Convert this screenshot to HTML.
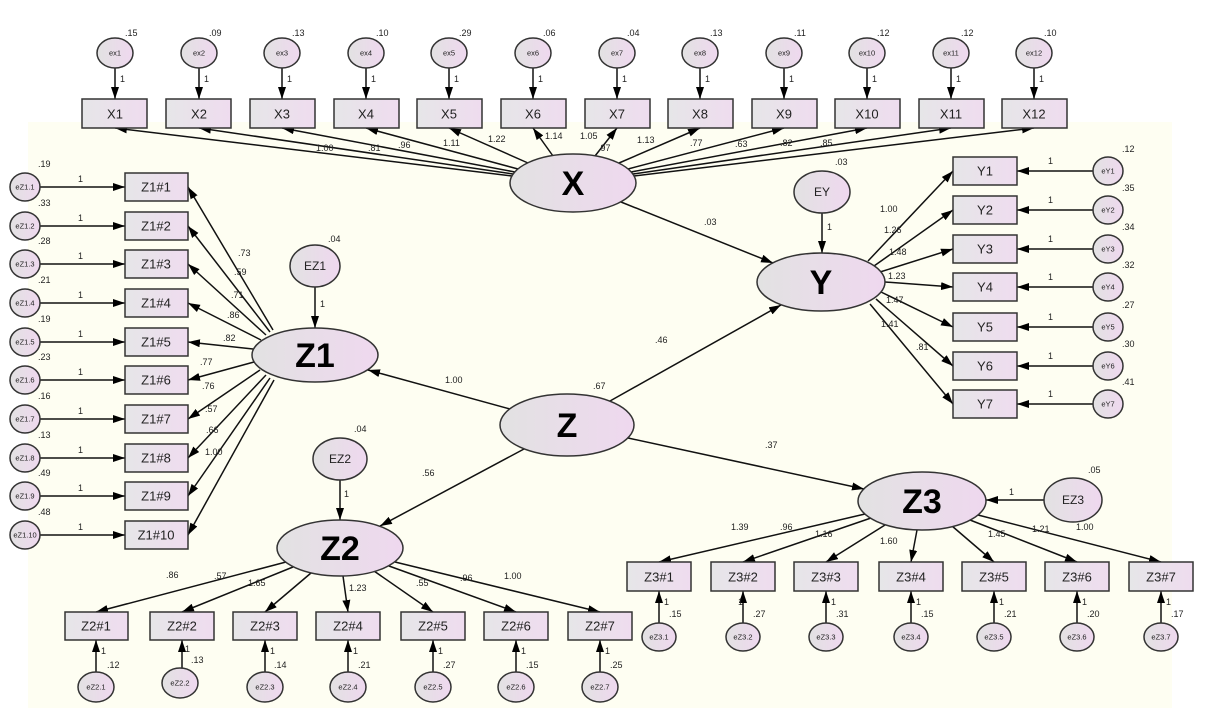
<!DOCTYPE html>
<html><head><meta charset="utf-8"><style>
html,body{margin:0;padding:0;background:#fff;}
svg{display:block;font-family:"Liberation Sans",Arial,sans-serif;}
.b{fill:url(#gb);stroke:#333;stroke-width:1.5}
.e{fill:url(#ge);stroke:#333;stroke-width:1.5}
.l{stroke:#111;stroke-width:1.5;fill:none;marker-end:url(#ar)}
.t{font-size:13px;fill:#222;text-anchor:middle;dominant-baseline:central}
.s{font-size:9px;fill:#222}
.m{font-size:7.5px;fill:#222;text-anchor:middle;dominant-baseline:central}
.big{font-size:34px;font-weight:bold;fill:#000;text-anchor:middle;dominant-baseline:central}
</style></head><body>
<svg width="1205" height="717" viewBox="0 0 1205 717">
<defs>
<linearGradient id="gb" x1="0" x2="1" y1="0" y2="0"><stop offset="0" stop-color="#e6e6e8"/><stop offset="1" stop-color="#efdcef"/></linearGradient>
<linearGradient id="ge" x1="0" x2="1" y1="0" y2="0"><stop offset="0" stop-color="#e2e2e2"/><stop offset="1" stop-color="#efd8ef"/></linearGradient>
<marker id="ar" viewBox="0 0 12 8" refX="12" refY="4" markerWidth="12" markerHeight="8" markerUnits="userSpaceOnUse" orient="auto"><path d="M0,0L12,4L0,8z" fill="#000"/></marker>
</defs>
<rect x="28" y="122" width="1144" height="586" fill="#fefef2"/>

<!-- X edges -->
<line class="l" x1="512" y1="176" x2="115" y2="128"/>
<line class="l" x1="513" y1="174" x2="199" y2="128"/>
<line class="l" x1="515" y1="172" x2="282" y2="128"/>
<line class="l" x1="518" y1="169" x2="366" y2="128"/>
<line class="l" x1="528" y1="163" x2="449" y2="128"/>
<line class="l" x1="553" y1="156" x2="533" y2="128"/>
<line class="l" x1="595" y1="156" x2="617" y2="128"/>
<line class="l" x1="619" y1="163" x2="700" y2="128"/>
<line class="l" x1="628" y1="169" x2="784" y2="128"/>
<line class="l" x1="631" y1="172" x2="867" y2="128"/>
<line class="l" x1="633" y1="174" x2="951" y2="128"/>
<line class="l" x1="634" y1="176" x2="1034" y2="128"/>
<line class="l" x1="621" y1="202" x2="773" y2="263"/>

<!-- ex error arrows -->
<g>
<line class="l" x1="115" y1="68" x2="115" y2="99"/><line class="l" x1="199" y1="68" x2="199" y2="99"/>
<line class="l" x1="282" y1="68" x2="282" y2="99"/><line class="l" x1="366" y1="68" x2="366" y2="99"/>
<line class="l" x1="449" y1="68" x2="449" y2="99"/><line class="l" x1="533" y1="68" x2="533" y2="99"/>
<line class="l" x1="617" y1="68" x2="617" y2="99"/><line class="l" x1="700" y1="68" x2="700" y2="99"/>
<line class="l" x1="784" y1="68" x2="784" y2="99"/><line class="l" x1="867" y1="68" x2="867" y2="99"/>
<line class="l" x1="951" y1="68" x2="951" y2="99"/><line class="l" x1="1034" y1="68" x2="1034" y2="99"/>
</g>
<g>
<ellipse class="e" cx="115" cy="53" rx="18" ry="15"/><text class="m" x="115" y="53">ex1</text>
<ellipse class="e" cx="199" cy="53" rx="18" ry="15"/><text class="m" x="199" y="53">ex2</text>
<ellipse class="e" cx="282" cy="53" rx="18" ry="15"/><text class="m" x="282" y="53">ex3</text>
<ellipse class="e" cx="366" cy="53" rx="18" ry="15"/><text class="m" x="366" y="53">ex4</text>
<ellipse class="e" cx="449" cy="53" rx="18" ry="15"/><text class="m" x="449" y="53">ex5</text>
<ellipse class="e" cx="533" cy="53" rx="18" ry="15"/><text class="m" x="533" y="53">ex6</text>
<ellipse class="e" cx="617" cy="53" rx="18" ry="15"/><text class="m" x="617" y="53">ex7</text>
<ellipse class="e" cx="700" cy="53" rx="18" ry="15"/><text class="m" x="700" y="53">ex8</text>
<ellipse class="e" cx="784" cy="53" rx="18" ry="15"/><text class="m" x="784" y="53">ex9</text>
<ellipse class="e" cx="867" cy="53" rx="18" ry="15"/><text class="m" x="867" y="53">ex10</text>
<ellipse class="e" cx="951" cy="53" rx="18" ry="15"/><text class="m" x="951" y="53">ex11</text>
<ellipse class="e" cx="1034" cy="53" rx="18" ry="15"/><text class="m" x="1034" y="53">ex12</text>
</g>
<g class="s">
<text x="125" y="36">.15</text><text x="209" y="36">.09</text><text x="292" y="36">.13</text><text x="376" y="36">.10</text>
<text x="459" y="36">.29</text><text x="543" y="36">.06</text><text x="627" y="36">.04</text><text x="710" y="36">.13</text>
<text x="794" y="36">.11</text><text x="877" y="36">.12</text><text x="961" y="36">.12</text><text x="1044" y="36">.10</text>
<text x="120" y="82">1</text><text x="204" y="82">1</text><text x="287" y="82">1</text><text x="371" y="82">1</text>
<text x="454" y="82">1</text><text x="538" y="82">1</text><text x="622" y="82">1</text><text x="705" y="82">1</text>
<text x="789" y="82">1</text><text x="872" y="82">1</text><text x="956" y="82">1</text><text x="1039" y="82">1</text>
</g>
<g>
<rect class="b" x="82" y="99" width="65" height="29"/><text class="t" x="115" y="114">X1</text>
<rect class="b" x="166" y="99" width="65" height="29"/><text class="t" x="199" y="114">X2</text>
<rect class="b" x="250" y="99" width="65" height="29"/><text class="t" x="282" y="114">X3</text>
<rect class="b" x="334" y="99" width="65" height="29"/><text class="t" x="366" y="114">X4</text>
<rect class="b" x="417" y="99" width="65" height="29"/><text class="t" x="449" y="114">X5</text>
<rect class="b" x="501" y="99" width="65" height="29"/><text class="t" x="533" y="114">X6</text>
<rect class="b" x="585" y="99" width="65" height="29"/><text class="t" x="617" y="114">X7</text>
<rect class="b" x="668" y="99" width="65" height="29"/><text class="t" x="700" y="114">X8</text>
<rect class="b" x="752" y="99" width="65" height="29"/><text class="t" x="784" y="114">X9</text>
<rect class="b" x="835" y="99" width="65" height="29"/><text class="t" x="867" y="114">X10</text>
<rect class="b" x="919" y="99" width="65" height="29"/><text class="t" x="951" y="114">X11</text>
<rect class="b" x="1002" y="99" width="65" height="29"/><text class="t" x="1034" y="114">X12</text>
</g>
<g class="s">
<text x="316" y="151">1.00</text><text x="368" y="151">.81</text><text x="398" y="148">.96</text><text x="443" y="146">1.11</text>
<text x="488" y="142">1.22</text><text x="545" y="139">1.14</text><text x="580" y="139">1.05</text><text x="598" y="151">.97</text>
<text x="637" y="143">1.13</text><text x="690" y="146">.77</text><text x="735" y="147">.63</text><text x="780" y="146">.82</text>
<text x="820" y="146">.85</text><text x="704" y="225">.03</text>
</g>

<!-- Z1 -->
<g>
<line class="l" x1="40" y1="187" x2="125" y2="187"/><line class="l" x1="40" y1="226" x2="125" y2="226"/>
<line class="l" x1="40" y1="264" x2="125" y2="264"/><line class="l" x1="40" y1="303" x2="125" y2="303"/>
<line class="l" x1="40" y1="342" x2="125" y2="342"/><line class="l" x1="40" y1="380" x2="125" y2="380"/>
<line class="l" x1="40" y1="419" x2="125" y2="419"/><line class="l" x1="40" y1="458" x2="125" y2="458"/>
<line class="l" x1="40" y1="496" x2="125" y2="496"/><line class="l" x1="40" y1="535" x2="125" y2="535"/>
<line class="l" x1="273" y1="330" x2="188" y2="187"/><line class="l" x1="270" y1="332" x2="188" y2="226"/>
<line class="l" x1="266" y1="335" x2="188" y2="264"/><line class="l" x1="261" y1="340" x2="188" y2="303"/>
<line class="l" x1="253" y1="349" x2="188" y2="342"/><line class="l" x1="254" y1="362" x2="188" y2="380"/>
<line class="l" x1="260" y1="370" x2="188" y2="419"/><line class="l" x1="266" y1="375" x2="188" y2="458"/>
<line class="l" x1="270" y1="378" x2="188" y2="496"/><line class="l" x1="274" y1="380" x2="188" y2="535"/>
</g>
<g>
<ellipse class="e" cx="25" cy="187" rx="15" ry="14"/><text class="m" x="25" y="187">eZ1.1</text>
<ellipse class="e" cx="25" cy="226" rx="15" ry="14"/><text class="m" x="25" y="226">eZ1.2</text>
<ellipse class="e" cx="25" cy="264" rx="15" ry="14"/><text class="m" x="25" y="264">eZ1.3</text>
<ellipse class="e" cx="25" cy="303" rx="15" ry="14"/><text class="m" x="25" y="303">eZ1.4</text>
<ellipse class="e" cx="25" cy="342" rx="15" ry="14"/><text class="m" x="25" y="342">eZ1.5</text>
<ellipse class="e" cx="25" cy="380" rx="15" ry="14"/><text class="m" x="25" y="380">eZ1.6</text>
<ellipse class="e" cx="25" cy="419" rx="15" ry="14"/><text class="m" x="25" y="419">eZ1.7</text>
<ellipse class="e" cx="25" cy="458" rx="15" ry="14"/><text class="m" x="25" y="458">eZ1.8</text>
<ellipse class="e" cx="25" cy="496" rx="15" ry="14"/><text class="m" x="25" y="496">eZ1.9</text>
<ellipse class="e" cx="25" cy="535" rx="15" ry="14"/><text class="m" x="25" y="535">eZ1.10</text>
</g>
<g>
<rect class="b" x="125" y="173" width="63" height="28"/><text class="t" x="156" y="187">Z1#1</text>
<rect class="b" x="125" y="212" width="63" height="28"/><text class="t" x="156" y="226">Z1#2</text>
<rect class="b" x="125" y="250" width="63" height="28"/><text class="t" x="156" y="264">Z1#3</text>
<rect class="b" x="125" y="289" width="63" height="28"/><text class="t" x="156" y="303">Z1#4</text>
<rect class="b" x="125" y="328" width="63" height="28"/><text class="t" x="156" y="342">Z1#5</text>
<rect class="b" x="125" y="366" width="63" height="28"/><text class="t" x="156" y="380">Z1#6</text>
<rect class="b" x="125" y="405" width="63" height="28"/><text class="t" x="156" y="419">Z1#7</text>
<rect class="b" x="125" y="444" width="63" height="28"/><text class="t" x="156" y="458">Z1#8</text>
<rect class="b" x="125" y="482" width="63" height="28"/><text class="t" x="156" y="496">Z1#9</text>
<rect class="b" x="125" y="521" width="63" height="28"/><text class="t" x="156" y="535">Z1#10</text>
</g>
<g class="s">
<text x="38" y="167">.19</text><text x="38" y="206">.33</text><text x="38" y="244">.28</text><text x="38" y="283">.21</text>
<text x="38" y="322">.19</text><text x="38" y="360">.23</text><text x="38" y="399">.16</text><text x="38" y="438">.13</text>
<text x="38" y="476">.49</text><text x="38" y="515">.48</text>
<text x="78" y="182">1</text><text x="78" y="221">1</text><text x="78" y="259">1</text><text x="78" y="298">1</text>
<text x="78" y="337">1</text><text x="78" y="375">1</text><text x="78" y="414">1</text><text x="78" y="453">1</text>
<text x="78" y="491">1</text><text x="78" y="530">1</text>
<text x="238" y="256">.73</text><text x="234" y="275">.59</text><text x="231" y="298">.71</text><text x="227" y="318">.86</text>
<text x="223" y="341">.82</text><text x="200" y="365">.77</text><text x="202" y="389">.76</text><text x="205" y="412">.57</text>
<text x="206" y="433">.66</text><text x="205" y="455">1.00</text>
</g>
<line class="l" x1="315" y1="287" x2="315" y2="328"/>
<ellipse class="e" cx="315" cy="266" rx="25" ry="21"/><text class="t" x="315" y="266" style="font-size:12px">EZ1</text>
<text class="s" x="328" y="242">.04</text><text class="s" x="320" y="307">1</text>
<ellipse class="e" cx="315" cy="355" rx="63" ry="27"/><text class="big" x="315" y="356">Z1</text>

<!-- Z edges -->
<line class="l" x1="510" y1="409" x2="368" y2="370"/>
<line class="l" x1="610" y1="401" x2="781" y2="305"/>
<line class="l" x1="524" y1="449" x2="380" y2="526"/>
<line class="l" x1="628" y1="438" x2="864" y2="489"/>
<g class="s"><text x="445" y="383">1.00</text><text x="655" y="343">.46</text><text x="593" y="389">.67</text>
<text x="422" y="476">.56</text><text x="765" y="448">.37</text></g>

<!-- X, Z ellipses -->
<ellipse class="e" cx="573" cy="183" rx="63" ry="29"/><text class="big" x="573" y="184">X</text>
<ellipse class="e" cx="567" cy="425" rx="67" ry="31"/><text class="big" x="567" y="426">Z</text>

<!-- Y -->
<g>
<line class="l" x1="868" y1="261" x2="953" y2="171"/><line class="l" x1="874" y1="266" x2="953" y2="210"/>
<line class="l" x1="880" y1="272" x2="953" y2="249"/><line class="l" x1="885" y1="282" x2="953" y2="287"/>
<line class="l" x1="881" y1="292" x2="953" y2="327"/><line class="l" x1="876" y1="299" x2="953" y2="366"/>
<line class="l" x1="870" y1="304" x2="953" y2="404"/>
<line class="l" x1="1093" y1="171" x2="1017" y2="171"/><line class="l" x1="1093" y1="210" x2="1017" y2="210"/>
<line class="l" x1="1093" y1="249" x2="1017" y2="249"/><line class="l" x1="1093" y1="287" x2="1017" y2="287"/>
<line class="l" x1="1093" y1="327" x2="1017" y2="327"/><line class="l" x1="1093" y1="366" x2="1017" y2="366"/>
<line class="l" x1="1093" y1="404" x2="1017" y2="404"/>
<line class="l" x1="822" y1="213" x2="822" y2="253"/>
</g>
<g>
<rect class="b" x="953" y="157" width="64" height="28"/><text class="t" x="985" y="171">Y1</text>
<rect class="b" x="953" y="196" width="64" height="28"/><text class="t" x="985" y="210">Y2</text>
<rect class="b" x="953" y="235" width="64" height="28"/><text class="t" x="985" y="249">Y3</text>
<rect class="b" x="953" y="273" width="64" height="28"/><text class="t" x="985" y="287">Y4</text>
<rect class="b" x="953" y="313" width="64" height="28"/><text class="t" x="985" y="327">Y5</text>
<rect class="b" x="953" y="352" width="64" height="28"/><text class="t" x="985" y="366">Y6</text>
<rect class="b" x="953" y="390" width="64" height="28"/><text class="t" x="985" y="404">Y7</text>
<ellipse class="e" cx="1108" cy="171" rx="15" ry="14"/><text class="m" x="1108" y="171">eY1</text>
<ellipse class="e" cx="1108" cy="210" rx="15" ry="14"/><text class="m" x="1108" y="210">eY2</text>
<ellipse class="e" cx="1108" cy="249" rx="15" ry="14"/><text class="m" x="1108" y="249">eY3</text>
<ellipse class="e" cx="1108" cy="287" rx="15" ry="14"/><text class="m" x="1108" y="287">eY4</text>
<ellipse class="e" cx="1108" cy="327" rx="15" ry="14"/><text class="m" x="1108" y="327">eY5</text>
<ellipse class="e" cx="1108" cy="366" rx="15" ry="14"/><text class="m" x="1108" y="366">eY6</text>
<ellipse class="e" cx="1108" cy="404" rx="15" ry="14"/><text class="m" x="1108" y="404">eY7</text>
</g>
<g class="s">
<text x="1122" y="152">.12</text><text x="1122" y="191">.35</text><text x="1122" y="230">.34</text><text x="1122" y="268">.32</text>
<text x="1122" y="308">.27</text><text x="1122" y="347">.30</text><text x="1122" y="385">.41</text>
<text x="1048" y="164">1</text><text x="1048" y="203">1</text><text x="1048" y="242">1</text><text x="1048" y="280">1</text>
<text x="1048" y="320">1</text><text x="1048" y="359">1</text><text x="1048" y="397">1</text>
<text x="880" y="212">1.00</text><text x="884" y="233">1.26</text><text x="889" y="255">1.48</text><text x="888" y="279">1.23</text>
<text x="886" y="303">1.47</text><text x="881" y="327">1.41</text><text x="916" y="350">.81</text>
<text x="835" y="165">.03</text><text x="827" y="230">1</text>
</g>
<ellipse class="e" cx="822" cy="192" rx="28" ry="21"/><text class="t" x="822" y="192" style="font-size:12px">EY</text>
<ellipse class="e" cx="821" cy="282" rx="64" ry="29"/><text class="big" x="821" y="283">Y</text>

<!-- Z2 -->
<line class="l" x1="340" y1="480" x2="340" y2="520"/>
<ellipse class="e" cx="340" cy="459" rx="27" ry="21"/><text class="t" x="340" y="459" style="font-size:12px">EZ2</text>
<text class="s" x="354" y="432">.04</text><text class="s" x="344" y="497">1</text>
<g>
<line class="l" x1="286" y1="562" x2="96" y2="612"/><line class="l" x1="293" y1="567" x2="182" y2="612"/>
<line class="l" x1="311" y1="573" x2="265" y2="612"/><line class="l" x1="343" y1="576" x2="348" y2="612"/>
<line class="l" x1="374" y1="571" x2="433" y2="612"/><line class="l" x1="389" y1="566" x2="516" y2="612"/>
<line class="l" x1="395" y1="562" x2="600" y2="612"/>
<line class="l" x1="96" y1="672" x2="96" y2="640"/><line class="l" x1="182" y1="668" x2="182" y2="640"/>
<line class="l" x1="265" y1="672" x2="265" y2="640"/><line class="l" x1="348" y1="672" x2="348" y2="640"/>
<line class="l" x1="433" y1="672" x2="433" y2="640"/><line class="l" x1="516" y1="672" x2="516" y2="640"/>
<line class="l" x1="600" y1="672" x2="600" y2="640"/>
</g>
<ellipse class="e" cx="340" cy="548" rx="63" ry="28"/><text class="big" x="340" y="549">Z2</text>
<g>
<rect class="b" x="65" y="612" width="63" height="28"/><text class="t" x="96" y="626">Z2#1</text>
<rect class="b" x="150" y="612" width="64" height="28"/><text class="t" x="182" y="626">Z2#2</text>
<rect class="b" x="233" y="612" width="64" height="28"/><text class="t" x="265" y="626">Z2#3</text>
<rect class="b" x="316" y="612" width="64" height="28"/><text class="t" x="348" y="626">Z2#4</text>
<rect class="b" x="401" y="612" width="64" height="28"/><text class="t" x="433" y="626">Z2#5</text>
<rect class="b" x="484" y="612" width="64" height="28"/><text class="t" x="516" y="626">Z2#6</text>
<rect class="b" x="568" y="612" width="64" height="28"/><text class="t" x="600" y="626">Z2#7</text>
<ellipse class="e" cx="96" cy="687" rx="18" ry="15"/><text class="m" x="96" y="687">eZ2.1</text>
<ellipse class="e" cx="180" cy="683" rx="18" ry="15"/><text class="m" x="180" y="683">eZ2.2</text>
<ellipse class="e" cx="265" cy="687" rx="18" ry="15"/><text class="m" x="265" y="687">eZ2.3</text>
<ellipse class="e" cx="348" cy="687" rx="18" ry="15"/><text class="m" x="348" y="687">eZ2.4</text>
<ellipse class="e" cx="433" cy="687" rx="18" ry="15"/><text class="m" x="433" y="687">eZ2.5</text>
<ellipse class="e" cx="516" cy="687" rx="18" ry="15"/><text class="m" x="516" y="687">eZ2.6</text>
<ellipse class="e" cx="600" cy="687" rx="18" ry="15"/><text class="m" x="600" y="687">eZ2.7</text>
</g>
<g class="s">
<text x="166" y="578">.86</text><text x="214" y="579">.57</text><text x="248" y="586">1.65</text><text x="349" y="591">1.23</text>
<text x="416" y="586">.55</text><text x="460" y="581">.96</text><text x="504" y="579">1.00</text>
<text x="107" y="668">.12</text><text x="191" y="663">.13</text><text x="274" y="668">.14</text><text x="358" y="668">.21</text>
<text x="443" y="668">.27</text><text x="526" y="668">.15</text><text x="610" y="668">.25</text>
<text x="101" y="654">1</text><text x="185" y="652">1</text><text x="270" y="654">1</text><text x="353" y="654">1</text>
<text x="438" y="654">1</text><text x="521" y="654">1</text><text x="605" y="654">1</text>
</g>

<!-- Z3 -->
<line class="l" x1="1044" y1="500" x2="986" y2="500"/>
<ellipse class="e" cx="1073" cy="500" rx="29" ry="22"/><text class="t" x="1073" y="500" style="font-size:12px">EZ3</text>
<text class="s" x="1088" y="473">.05</text><text class="s" x="1009" y="495">1</text>
<g>
<line class="l" x1="865" y1="514" x2="659" y2="562"/><line class="l" x1="871" y1="518" x2="743" y2="562"/>
<line class="l" x1="885" y1="525" x2="826" y2="562"/><line class="l" x1="917" y1="530" x2="911" y2="562"/>
<line class="l" x1="952" y1="526" x2="994" y2="562"/><line class="l" x1="970" y1="520" x2="1077" y2="562"/>
<line class="l" x1="978" y1="515" x2="1161" y2="562"/>
<line class="l" x1="659" y1="623" x2="659" y2="591"/><line class="l" x1="743" y1="623" x2="743" y2="591"/>
<line class="l" x1="826" y1="623" x2="826" y2="591"/><line class="l" x1="911" y1="623" x2="911" y2="591"/>
<line class="l" x1="994" y1="623" x2="994" y2="591"/><line class="l" x1="1077" y1="623" x2="1077" y2="591"/>
<line class="l" x1="1161" y1="623" x2="1161" y2="591"/>
</g>
<ellipse class="e" cx="922" cy="501" rx="64" ry="29"/><text class="big" x="922" y="502">Z3</text>
<g>
<rect class="b" x="627" y="562" width="64" height="29"/><text class="t" x="659" y="577">Z3#1</text>
<rect class="b" x="711" y="562" width="64" height="29"/><text class="t" x="743" y="577">Z3#2</text>
<rect class="b" x="794" y="562" width="64" height="29"/><text class="t" x="826" y="577">Z3#3</text>
<rect class="b" x="879" y="562" width="64" height="29"/><text class="t" x="911" y="577">Z3#4</text>
<rect class="b" x="962" y="562" width="64" height="29"/><text class="t" x="994" y="577">Z3#5</text>
<rect class="b" x="1045" y="562" width="64" height="29"/><text class="t" x="1077" y="577">Z3#6</text>
<rect class="b" x="1129" y="562" width="64" height="29"/><text class="t" x="1161" y="577">Z3#7</text>
<ellipse class="e" cx="659" cy="637" rx="17" ry="14"/><text class="m" x="659" y="637">eZ3.1</text>
<ellipse class="e" cx="743" cy="637" rx="17" ry="14"/><text class="m" x="743" y="637">eZ3.2</text>
<ellipse class="e" cx="826" cy="637" rx="17" ry="14"/><text class="m" x="826" y="637">eZ3.3</text>
<ellipse class="e" cx="911" cy="637" rx="17" ry="14"/><text class="m" x="911" y="637">eZ3.4</text>
<ellipse class="e" cx="994" cy="637" rx="17" ry="14"/><text class="m" x="994" y="637">eZ3.5</text>
<ellipse class="e" cx="1077" cy="637" rx="17" ry="14"/><text class="m" x="1077" y="637">eZ3.6</text>
<ellipse class="e" cx="1161" cy="637" rx="17" ry="14"/><text class="m" x="1161" y="637">eZ3.7</text>
</g>
<g class="s">
<text x="731" y="530">1.39</text><text x="780" y="530">.96</text><text x="815" y="537">1.16</text><text x="880" y="544">1.60</text>
<text x="988" y="537">1.45</text><text x="1032" y="532">1.21</text><text x="1076" y="530">1.00</text>
<text x="669" y="617">.15</text><text x="753" y="617">.27</text><text x="836" y="617">.31</text><text x="921" y="617">.15</text>
<text x="1004" y="617">.21</text><text x="1087" y="617">.20</text><text x="1171" y="617">.17</text>
<text x="664" y="605">1</text><text x="738" y="605">1</text><text x="831" y="605">1</text><text x="916" y="605">1</text>
<text x="999" y="605">1</text><text x="1082" y="605">1</text><text x="1166" y="605">1</text>
</g>
</svg>
</body></html>
